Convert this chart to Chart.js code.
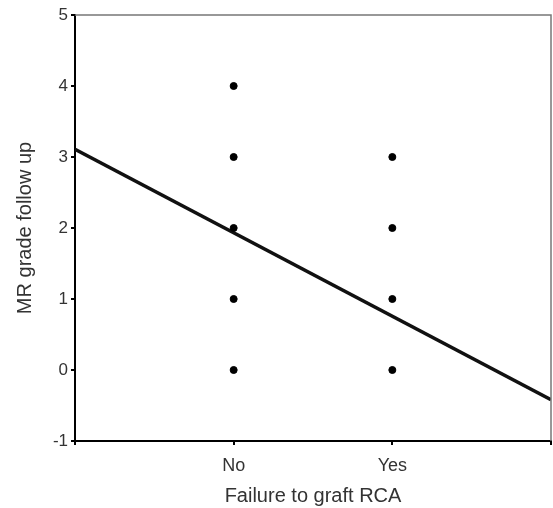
<!DOCTYPE html>
<html lang="en">
<head>
    <meta charset="UTF-8">
    <title>MR grade</title>
    <style>
        body { margin: 0; background: #fff; }
    </style>
</head>
<body>
    <canvas id="myChart" width="553" height="508"></canvas>

    <script src="https://cdn.jsdelivr.net/npm/chart.js"></script>
    <script>
        // categories on x (position 1 and 2)
        const groups = ['No', 'Yes']
        const xTickLabels = ['', 'No', 'Yes', '']
        const yTicks = [-1, 0, 1, 2, 3, 4, 5]
        // observed MR grades per group
        const gradesNo = [0, 1, 2, 3, 4]
        const gradesYes = [0, 1, 2, 3]
        // fitted line, ends at x = 0 and x = 3
        const fitX = [0, 3]
        const fitY = [3.11, -0.42]

        const points = []
        gradesNo.forEach(v => points.push({ x: 1, y: v }))
        gradesYes.forEach(v => points.push({ x: 2, y: v }))
        const fit = fitX.map((x, i) => ({ x: x, y: fitY[i] }))

        const fam = 'Liberation Sans, Arial, sans-serif'

        const frame = {
            id: 'frame',
            afterDatasetsDraw(chart) {
                const a = chart.chartArea, c = chart.ctx
                c.save()
                c.strokeStyle = '#777'
                c.lineWidth = 1.5
                c.beginPath()
                c.moveTo(a.left, a.top)
                c.lineTo(a.right, a.top)
                c.lineTo(a.right, a.bottom)
                c.stroke()
                c.restore()
            }
        }

        new Chart(document.getElementById('myChart'), {
            type: 'scatter',
            data: {
                datasets: [{
                    data: points,
                    backgroundColor: '#000',
                    borderColor: '#000',
                    pointRadius: 3.5
                }, {
                    type: 'line',
                    data: fit,
                    borderColor: '#111',
                    borderWidth: 3.5,
                    pointRadius: 0,
                    fill: false
                }]
            },
            options: {
                responsive: false,
                devicePixelRatio: 1,
                animation: false,
                layout: { autoPadding: false, padding: { top: 15, right: 2, left: 0, bottom: 0 } },
                plugins: { legend: { display: false }, tooltip: { enabled: false } },
                scales: {
                    x: {
                        type: 'linear',
                        min: 0,
                        max: 3,
                        afterBuildTicks: s => { s.ticks = [0, 1, 2, 3].map(v => ({ value: v })) },
                        ticks: {
                            callback: (v) => xTickLabels[v],
                            color: '#333',
                            font: { family: fam, size: 18 },
                            padding: 10,
                            maxRotation: 0
                        },
                        grid: { drawOnChartArea: false, color: '#000', tickLength: 4, lineWidth: 2 },
                        border: { color: '#000', width: 2 },
                        title: { display: true, text: 'Failure to graft RCA', color: '#333', font: { family: fam, size: 20 }, padding: { top: 6, bottom: 0 } },
                        afterFit: s => { s.height = 67; s.paddingLeft = 0; s.paddingRight = 0 }
                    },
                    y: {
                        min: -1,
                        max: 5,
                        afterBuildTicks: s => { s.ticks = yTicks.map(v => ({ value: v })) },
                        ticks: { color: '#333', font: { family: fam, size: 17 }, padding: 3 },
                        grid: { drawOnChartArea: false, color: '#000', tickLength: 4, lineWidth: 2 },
                        border: { color: '#000', width: 2 },
                        title: { display: true, text: 'MR grade follow up', color: '#333', font: { family: fam, size: 20 }, padding: { top: 13, bottom: 4 } },
                        afterFit: s => { s.width = 75; s.paddingTop = 0; s.paddingBottom = 0 }
                    }
                }
            },
            plugins: [frame]
        })
    </script>
</body>
</html>
